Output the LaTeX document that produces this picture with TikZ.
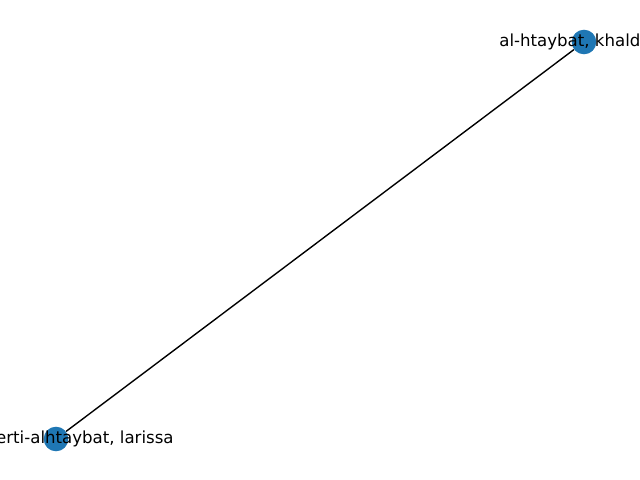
\documentclass[tikz,border=0pt]{standalone}
\usepackage{fontspec}
\setmainfont{DejaVu Sans}
\begin{document}
\begin{tikzpicture}[x=0.02cm,y=-0.02cm,
  gnode/.style={circle,fill=nodeblue,draw=none,minimum size=14pt,inner sep=0pt},
  glabel/.style={font=\fontsize{9.45pt}{11pt}\selectfont,inner sep=0pt,text=black},
  gedge/.style={draw=black,line width=0.79pt}]
\definecolor{nodeblue}{HTML}{1F77B4}
\useasboundingbox (0,0) rectangle (640,480);
\clip (0,0) rectangle (640,480);
\node[gnode] (k) at (584,42) {};
\node[gnode] (l) at (56,439) {};
\draw[gedge] (k) -- (l);
\node[glabel,anchor=west] (kl) at (499,42) {al-htaybat, khald};
\node[glabel,anchor=east] (ll) at (174,439) {erti-alhtaybat, larissa};
\end{tikzpicture}
\end{document}
